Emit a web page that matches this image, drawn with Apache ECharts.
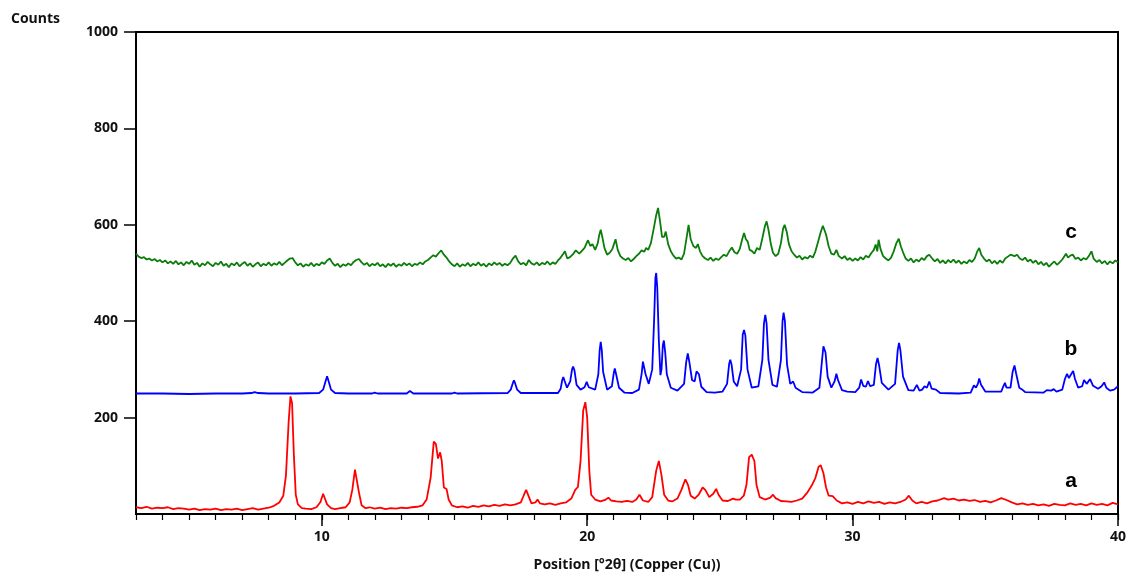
<!DOCTYPE html>
<html>
<head>
<meta charset="utf-8">
<script src="https://cdn.jsdelivr.net/npm/echarts@6/dist/echarts.min.js"></script>
<style>
html,body{margin:0;padding:0;background:#fff;}
#chart{width:1129px;height:576px;}
</style>
</head>
<body>
<div id="chart"></div>
<script>
// ---- data (x = °2θ, y = counts) ----
const xTickLabels = [10, 20, 30, 40];
const yTickLabels = [200, 400, 600, 800, 1000];
const seriesNames = ['a', 'b', 'c'];

const seriesA = [[3.0,14],[3.2,12],[3.4,15],[3.6,11],[3.8,13],[4.0,12],[4.2,14],[4.4,10],[4.6,12],[4.8,11],[5.0,9],[5.2,11],[5.4,8],[5.6,10],[5.8,9],[6.0,11],[6.2,8],[6.4,10],[6.6,9],[6.8,11],[7.0,8],[7.2,10],[7.4,12],[7.6,9],[7.8,11],[8.0,13],[8.2,17],[8.4,24],[8.55,38],[8.65,80],[8.75,190],[8.82,244],[8.88,230],[8.95,120],[9.02,40],[9.1,20],[9.25,12],[9.4,11],[9.6,10],[9.8,14],[9.95,25],[10.05,42],[10.12,38],[10.2,20],[10.35,12],[10.5,10],[10.7,12],[10.9,14],[11.05,24],[11.15,50],[11.25,92],[11.32,90],[11.4,45],[11.5,18],[11.65,12],[11.8,14],[12.0,11],[12.2,13],[12.4,10],[12.6,12],[12.8,11],[13.0,13],[13.2,12],[13.4,14],[13.6,15],[13.8,18],[13.95,30],[14.1,75],[14.22,150],[14.3,145],[14.38,115],[14.46,128],[14.52,110],[14.6,55],[14.7,52],[14.78,30],[14.9,18],[15.1,14],[15.3,16],[15.5,13],[15.7,17],[15.9,15],[16.1,18],[16.3,16],[16.5,19],[16.7,17],[16.9,20],[17.1,18],[17.3,20],[17.5,24],[17.62,40],[17.7,50],[17.8,36],[17.9,22],[18.05,24],[18.13,30],[18.22,22],[18.4,20],[18.6,22],[18.8,19],[19.0,22],[19.2,24],[19.4,32],[19.55,50],[19.65,56],[19.75,110],[19.85,215],[19.93,232],[20.0,200],[20.08,90],[20.15,40],[20.3,30],[20.5,26],[20.7,30],[20.8,34],[20.9,28],[21.1,26],[21.3,25],[21.5,27],[21.7,25],[21.85,30],[21.97,40],[22.1,28],[22.3,25],[22.45,35],[22.6,90],[22.7,110],[22.8,80],[22.9,40],[23.05,28],[23.2,26],[23.4,32],[23.55,50],[23.7,72],[23.8,60],[23.9,38],[24.05,32],[24.2,40],[24.35,55],[24.45,50],[24.6,35],[24.75,42],[24.86,52],[24.95,40],[25.1,28],[25.3,27],[25.5,32],[25.6,30],[25.75,30],[25.9,38],[26.0,60],[26.1,118],[26.2,123],[26.3,110],[26.38,60],[26.5,35],[26.7,30],[26.9,34],[27.0,40],[27.1,33],[27.3,27],[27.5,26],[27.7,25],[27.9,28],[28.1,32],[28.3,45],[28.45,58],[28.6,75],[28.72,98],[28.8,101],[28.9,85],[29.0,55],[29.1,38],[29.25,37],[29.4,28],[29.6,22],[29.8,24],[30.0,21],[30.2,25],[30.4,22],[30.6,26],[30.8,23],[31.0,25],[31.2,21],[31.4,24],[31.6,22],[31.8,25],[32.0,30],[32.12,38],[32.25,28],[32.4,22],[32.6,25],[32.8,22],[33.0,26],[33.2,28],[33.45,33],[33.6,30],[33.8,32],[34.0,28],[34.2,30],[34.4,27],[34.6,29],[34.8,25],[35.0,27],[35.2,24],[35.4,28],[35.6,33],[35.8,29],[36.0,24],[36.2,20],[36.4,22],[36.6,19],[36.8,21],[37.0,18],[37.2,20],[37.4,17],[37.6,21],[37.8,19],[38.0,18],[38.2,22],[38.4,19],[38.6,21],[38.8,18],[39.0,22],[39.2,19],[39.4,21],[39.6,18],[39.8,23],[40.0,20]];

const seriesB = [[3.0,250],[4.0,250],[5.0,249],[6.0,250],[7.0,250],[7.35,251],[7.47,253],[7.6,251],[8.0,250],[9.0,250],[9.9,251],[10.05,258],[10.14,275],[10.2,286],[10.26,275],[10.35,258],[10.5,251],[11.0,250],[11.9,250],[11.99,252],[12.1,250],[13.2,250],[13.32,255],[13.45,250],[14.9,250],[15.0,252],[15.1,250],[17.0,251],[17.12,258],[17.2,272],[17.24,277],[17.28,272],[17.36,258],[17.5,251],[18.9,251],[19.0,260],[19.06,278],[19.1,284],[19.15,276],[19.24,262],[19.36,275],[19.43,300],[19.47,306],[19.52,298],[19.6,268],[19.75,258],[19.9,263],[19.98,274],[20.06,263],[20.3,258],[20.42,290],[20.47,340],[20.51,357],[20.55,340],[20.6,295],[20.75,258],[20.93,265],[21.0,292],[21.04,302],[21.09,290],[21.2,262],[21.4,252],[21.7,251],[21.95,258],[22.05,290],[22.1,316],[22.14,318],[22.2,290],[22.32,270],[22.45,300],[22.52,400],[22.57,490],[22.6,500],[22.64,470],[22.7,360],[22.76,288],[22.8,300],[22.85,350],[22.89,360],[22.94,335],[23.0,290],[23.15,262],[23.4,256],[23.65,270],[23.73,315],[23.79,333],[23.85,315],[23.95,278],[24.05,275],[24.12,296],[24.16,300],[24.21,290],[24.3,264],[24.5,253],[24.8,252],[25.1,254],[25.27,270],[25.35,312],[25.39,320],[25.44,310],[25.52,275],[25.65,265],[25.8,300],[25.86,372],[25.91,382],[25.96,370],[26.04,300],[26.2,262],[26.45,265],[26.6,320],[26.66,395],[26.71,413],[26.76,395],[26.83,320],[26.98,268],[27.15,264],[27.3,320],[27.36,400],[27.4,418],[27.45,400],[27.53,310],[27.65,270],[27.76,275],[27.85,262],[28.1,253],[28.5,252],[28.75,262],[28.85,320],[28.9,348],[28.93,351],[28.98,335],[29.06,285],[29.2,262],[29.32,275],[29.39,291],[29.45,278],[29.6,257],[29.8,254],[30.1,253],[30.25,262],[30.32,279],[30.4,266],[30.5,264],[30.58,276],[30.66,265],[30.8,268],[30.88,310],[30.94,324],[31.0,308],[31.1,272],[31.35,258],[31.6,270],[31.7,340],[31.75,355],[31.8,340],[31.9,285],[32.1,257],[32.3,256],[32.42,268],[32.52,256],[32.62,258],[32.71,265],[32.8,262],[32.89,275],[32.98,260],[33.14,258],[33.3,251],[34.0,250],[34.45,252],[34.57,267],[34.65,262],[34.72,270],[34.77,281],[34.84,268],[35.0,254],[35.6,254],[35.68,265],[35.74,272],[35.8,262],[35.95,262],[36.03,295],[36.1,308],[36.16,292],[36.28,262],[36.37,259],[36.5,253],[37.2,252],[37.32,257],[37.38,259],[37.48,256],[37.58,259],[37.68,254],[37.9,258],[38.0,280],[38.08,291],[38.15,282],[38.22,280],[38.31,297],[38.38,280],[38.5,262],[38.65,265],[38.72,278],[38.76,280],[38.82,270],[38.88,268],[38.95,280],[38.99,280],[39.06,266],[39.25,260],[39.38,265],[39.48,273],[39.56,262],[39.7,256],[39.85,258],[40.0,265]];

const seriesC = [[3.0,540],[3.1,534],[3.2,531],[3.3,533],[3.4,528],[3.5,530],[3.6,526],[3.7,529],[3.8,524],[3.9,527],[4.0,522],[4.1,526],[4.2,520],[4.3,524],[4.4,519],[4.5,525],[4.6,518],[4.7,522],[4.8,516],[4.9,523],[5.0,519],[5.1,526],[5.2,517],[5.3,521],[5.4,513],[5.5,520],[5.6,516],[5.7,523],[5.8,518],[5.9,514],[6.0,521],[6.1,517],[6.2,524],[6.3,515],[6.4,519],[6.5,512],[6.6,520],[6.7,516],[6.8,522],[6.9,514],[7.0,519],[7.1,523],[7.2,515],[7.3,520],[7.4,513],[7.5,518],[7.6,522],[7.7,514],[7.8,519],[7.9,516],[8.0,522],[8.1,515],[8.2,520],[8.3,517],[8.4,523],[8.5,516],[8.6,521],[8.7,526],[8.8,530],[8.9,531],[9.0,522],[9.1,516],[9.2,520],[9.3,513],[9.4,518],[9.5,515],[9.6,521],[9.7,514],[9.8,519],[9.9,516],[10.0,522],[10.1,519],[10.2,526],[10.3,530],[10.4,521],[10.5,515],[10.6,519],[10.7,512],[10.8,518],[10.9,515],[11.0,520],[11.1,516],[11.2,523],[11.3,527],[11.4,529],[11.5,522],[11.6,517],[11.7,521],[11.8,514],[11.9,519],[12.0,516],[12.1,521],[12.2,514],[12.3,518],[12.4,512],[12.5,519],[12.6,515],[12.7,520],[12.8,513],[12.9,518],[13.0,515],[13.1,521],[13.2,516],[13.3,520],[13.4,514],[13.5,519],[13.6,517],[13.7,522],[13.8,518],[13.9,524],[14.0,527],[14.1,532],[14.2,537],[14.3,534],[14.4,541],[14.5,547],[14.6,538],[14.7,532],[14.8,524],[14.9,518],[15.0,514],[15.1,520],[15.2,513],[15.3,518],[15.4,515],[15.5,521],[15.6,514],[15.7,519],[15.8,516],[15.9,522],[16.0,515],[16.1,519],[16.2,513],[16.3,520],[16.4,516],[16.5,522],[16.6,517],[16.7,521],[16.8,515],[16.9,519],[17.0,516],[17.1,521],[17.2,530],[17.3,536],[17.4,524],[17.5,518],[17.6,521],[17.7,516],[17.8,527],[17.9,520],[18.0,517],[18.1,522],[18.2,516],[18.3,521],[18.4,518],[18.5,524],[18.6,517],[18.7,522],[18.8,519],[18.9,526],[19.0,532],[19.1,540],[19.16,545],[19.25,530],[19.35,533],[19.45,538],[19.57,547],[19.7,540],[19.8,546],[19.9,552],[20.03,568],[20.12,556],[20.2,560],[20.3,548],[20.4,562],[20.45,578],[20.51,590],[20.58,572],[20.65,552],[20.75,538],[20.85,542],[20.95,550],[21.07,570],[21.15,548],[21.25,535],[21.35,530],[21.45,527],[21.55,531],[21.65,524],[21.75,529],[21.85,535],[21.95,540],[22.05,547],[22.15,544],[22.22,552],[22.3,548],[22.4,562],[22.5,590],[22.6,620],[22.67,635],[22.75,605],[22.82,575],[22.9,575],[22.96,586],[23.05,560],[23.15,545],[23.25,536],[23.35,530],[23.45,532],[23.55,528],[23.65,540],[23.75,575],[23.82,600],[23.9,570],[24.0,556],[24.1,552],[24.17,560],[24.25,545],[24.35,535],[24.45,530],[24.55,527],[24.65,532],[24.75,525],[24.85,530],[24.95,527],[25.05,533],[25.15,538],[25.25,535],[25.35,545],[25.45,553],[25.55,543],[25.65,540],[25.75,550],[25.84,570],[25.91,583],[25.98,570],[26.05,565],[26.12,548],[26.2,546],[26.3,540],[26.4,552],[26.5,548],[26.6,572],[26.7,598],[26.76,607],[26.83,590],[26.92,560],[27.0,542],[27.1,535],[27.2,540],[27.3,562],[27.38,592],[27.44,600],[27.52,585],[27.6,560],[27.7,545],[27.8,538],[27.9,532],[28.0,536],[28.1,528],[28.2,533],[28.3,530],[28.4,536],[28.5,532],[28.6,545],[28.7,565],[28.8,585],[28.88,598],[28.93,600],[29.0,580],[29.1,555],[29.2,540],[29.3,538],[29.39,548],[29.48,535],[29.6,530],[29.7,535],[29.8,527],[29.9,531],[30.0,525],[30.1,530],[30.2,526],[30.3,533],[30.4,528],[30.5,536],[30.6,532],[30.7,541],[30.8,548],[30.87,559],[30.93,545],[30.98,569],[31.05,550],[31.15,535],[31.25,530],[31.35,526],[31.45,532],[31.55,545],[31.65,562],[31.74,571],[31.82,555],[31.92,540],[32.0,530],[32.1,525],[32.2,530],[32.3,522],[32.4,528],[32.5,524],[32.6,531],[32.7,527],[32.8,535],[32.89,538],[33.0,530],[33.1,524],[33.2,529],[33.3,521],[33.4,526],[33.5,520],[33.6,527],[33.7,522],[33.8,528],[33.9,521],[34.0,526],[34.1,519],[34.2,524],[34.3,520],[34.4,527],[34.5,523],[34.6,530],[34.7,545],[34.77,552],[34.85,538],[34.95,530],[35.05,524],[35.15,528],[35.25,520],[35.35,525],[35.45,519],[35.55,526],[35.65,521],[35.75,530],[35.85,534],[35.95,538],[36.02,541],[36.1,535],[36.2,538],[36.3,530],[36.4,527],[36.5,532],[36.6,524],[36.7,528],[36.8,521],[36.9,526],[37.0,518],[37.1,523],[37.2,516],[37.3,521],[37.4,513],[37.5,519],[37.6,524],[37.7,517],[37.8,522],[37.9,528],[38.04,540],[38.12,532],[38.2,536],[38.3,538],[38.4,529],[38.5,532],[38.6,526],[38.7,531],[38.8,528],[38.9,535],[39.0,545],[39.08,530],[39.2,523],[39.3,527],[39.4,520],[39.5,525],[39.6,518],[39.7,524],[39.8,520],[39.9,526],[40.0,522]];

// ---- chart ----
const chart = echarts.init(document.getElementById('chart'), null, {renderer: 'canvas'});
const FONT = '"Open Sans", "Noto Sans", sans-serif';
const lbl = {fontFamily: FONT, fontWeight: 'bold', fontSize: 14, color: '#111'};

const option = {
  animation: false,
  backgroundColor: '#ffffff',
  grid: {left: 136, right: 11, top: 32, bottom: 62, outerBoundsMode: 'none', containLabel: false, show: true, borderColor: '#000', borderWidth: 2, backgroundColor: 'transparent'},
  xAxis: [
    {
      type: 'value', min: 3, max: 40, interval: 1, position: 'bottom',
      name: 'Position [°2θ] (Copper (Cu))', nameLocation: 'middle', nameGap: 44,
      nameTextStyle: lbl,
      axisLine: {show: true, lineStyle: {color: '#000', width: 2}},
      axisTick: {show: true, length: 12, customValues: xTickLabels, lineStyle: {color: '#000', width: 1.5}},
      axisLabel: Object.assign({margin: 16, customValues: xTickLabels, formatter: v => String(v)}, lbl),
      splitLine: {show: false}
    },
    {
      type: 'value', min: 3, max: 40, interval: 1, position: 'bottom', offset: 0,
      axisLine: {show: false},
      axisTick: {show: true, length: 6, lineStyle: {color: '#000', width: 1.2}},
      axisLabel: {show: false},
      splitLine: {show: false}
    }
  ],
  yAxis: {
    type: 'value', min: 0, max: 1000, interval: 200,
    axisLine: {show: true, lineStyle: {color: '#000', width: 2}},
    axisTick: {show: true, length: 12, customValues: yTickLabels, lineStyle: {color: '#000', width: 1.5}},
    axisLabel: Object.assign({margin: 18, customValues: yTickLabels, formatter: v => String(v)}, lbl),
    splitLine: {show: false}
  },
  graphic: [
    {type: 'text', left: 11, top: 12, style: {text: 'Counts', font: 'bold 14px ' + FONT, fill: '#111'}},
    {type: 'text', x: 1071, y: 232, style: {text: seriesNames[2], font: 'bold 21px "Liberation Sans", Arial, sans-serif', fill: '#000', align: 'center', verticalAlign: 'middle'}},
    {type: 'text', x: 1071, y: 349, style: {text: seriesNames[1], font: 'bold 21px "Liberation Sans", Arial, sans-serif', fill: '#000', align: 'center', verticalAlign: 'middle'}},
    {type: 'text', x: 1071, y: 481, style: {text: seriesNames[0], font: 'bold 21px "Liberation Sans", Arial, sans-serif', fill: '#000', align: 'center', verticalAlign: 'middle'}}
  ],
  series: [
    {name: seriesNames[2], type: 'line', data: seriesC, showSymbol: false, symbol: 'none', lineStyle: {color: '#0a7d0a', width: 1.8}, z: 2},
    {name: seriesNames[1], type: 'line', data: seriesB, showSymbol: false, symbol: 'none', lineStyle: {color: '#0000ff', width: 1.8}, z: 3},
    {name: seriesNames[0], type: 'line', data: seriesA, showSymbol: false, symbol: 'none', lineStyle: {color: '#ff0000', width: 1.8}, z: 4}
  ]
};
chart.setOption(option);
</script>
</body>
</html>
